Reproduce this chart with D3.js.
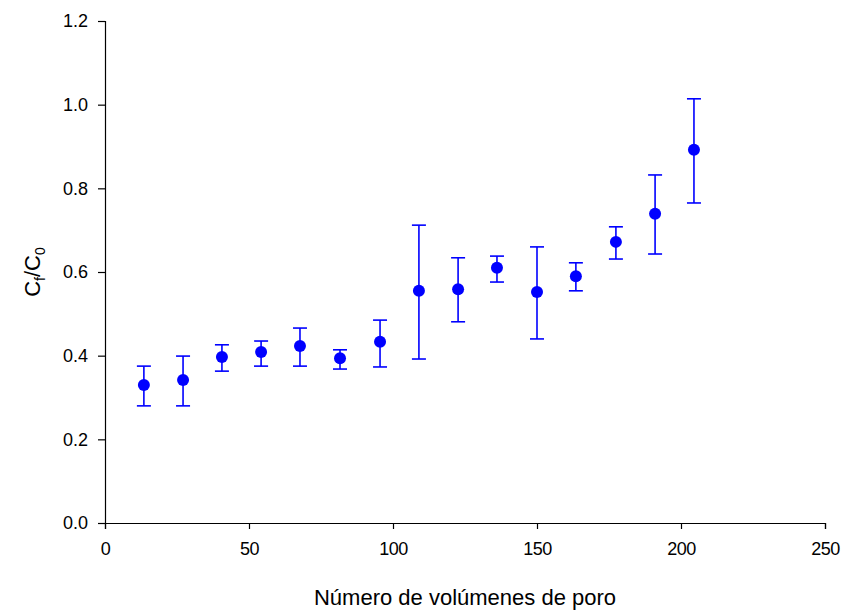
<!DOCTYPE html>
<html>
<head>
<meta charset="utf-8">
<script src="https://cdn.jsdelivr.net/npm/d3@7"></script>
<style>
  html, body { margin: 0; padding: 0; background: #fff; }
  svg { display: block; font-family: "Liberation Sans", Arial, sans-serif; }
</style>
</head>
<body>
<svg id="chart" width="844" height="611"></svg>
<script>
// Pore volumes eluted and relative concentration C_f/C_0 with error bounds
const poreVolumes = [13.5, 27.1, 40.6, 54.2, 67.7, 81.6, 95.5, 109.0, 122.6, 136.1, 150.0, 163.5, 177.4, 191.0, 204.5];
const ratio       = [0.330, 0.342, 0.397, 0.409, 0.423, 0.394, 0.433, 0.555, 0.559, 0.610, 0.552, 0.590, 0.672, 0.739, 0.892];
const upper       = [0.375, 0.399, 0.426, 0.435, 0.466, 0.414, 0.485, 0.712, 0.634, 0.638, 0.660, 0.622, 0.708, 0.832, 1.014];
const lower       = [0.280, 0.280, 0.363, 0.375, 0.375, 0.368, 0.373, 0.392, 0.481, 0.576, 0.440, 0.555, 0.631, 0.643, 0.765];

const xTicks = [0, 50, 100, 150, 200, 250];
const yTicks = [0.0, 0.2, 0.4, 0.6, 0.8, 1.0, 1.2];

const svg = d3.select("#chart");
const margin = { left: 105, right: 19, top: 21, bottom: 88 };
const W = 844, H = 611;

const x = d3.scaleLinear().domain([0, 250]).range([margin.left, W - margin.right]);
const y = d3.scaleLinear().domain([0, 1.2]).range([H - margin.bottom, margin.top]);

const blue = "#0000ff";

// Axes
const xAxis = svg.append("g")
  .attr("transform", `translate(0,${y(0)})`)
  .call(d3.axisBottom(x).tickValues(xTicks).tickSizeOuter(0).tickSize(6).tickPadding(13).tickFormat(d3.format("d")));
const yAxis = svg.append("g")
  .attr("transform", `translate(${x(0)},0)`)
  .call(d3.axisLeft(y).tickValues(yTicks).tickSizeOuter(0).tickSize(7).tickPadding(10).tickFormat(d3.format(".1f")));

[xAxis, yAxis].forEach(g => {
  g.selectAll("path, line").attr("stroke", "#000").attr("stroke-width", 1.2);
  g.selectAll("text").attr("fill", "#000").style("font-size", "18px")
    .style("font-family", "'Liberation Sans', Arial, sans-serif");
});
xAxis.selectAll("text").style("letter-spacing", "-0.5px");

// Axis titles
svg.append("text")
  .attr("x", (x(0) + x(250)) / 2).attr("y", 605)
  .attr("text-anchor", "middle")
  .style("font-size", "22px")
  .text("Número de volúmenes de poro");

const yl = svg.append("text")
  .attr("transform", `translate(40,${(y(0) + y(1.2)) / 2}) rotate(-90)`)
  .attr("text-anchor", "middle")
  .style("font-size", "22px");
yl.append("tspan").text("C");
yl.append("tspan").attr("dy", 5).style("font-size", "14px").text("f");
yl.append("tspan").attr("dy", -5).text("/C");
yl.append("tspan").attr("dy", 5).style("font-size", "14px").text("0");

// Error bars
const data = poreVolumes.map((v, i) => ({ x: v, y: ratio[i], hi: upper[i], lo: lower[i] }));
const capHalf = 7;
const eb = svg.append("g").attr("stroke", blue).attr("stroke-width", 1.6);
eb.selectAll("line.v").data(data).join("line")
  .attr("x1", d => x(d.x)).attr("x2", d => x(d.x))
  .attr("y1", d => y(d.hi)).attr("y2", d => y(d.lo));
eb.selectAll("line.t").data(data).join("line")
  .attr("x1", d => x(d.x) - capHalf).attr("x2", d => x(d.x) + capHalf)
  .attr("y1", d => y(d.hi)).attr("y2", d => y(d.hi));
eb.selectAll("line.b").data(data).join("line")
  .attr("x1", d => x(d.x) - capHalf).attr("x2", d => x(d.x) + capHalf)
  .attr("y1", d => y(d.lo)).attr("y2", d => y(d.lo));

// Points
svg.append("g").selectAll("circle").data(data).join("circle")
  .attr("cx", d => x(d.x)).attr("cy", d => y(d.y))
  .attr("r", 6).attr("fill", blue);
</script>
</body>
</html>
